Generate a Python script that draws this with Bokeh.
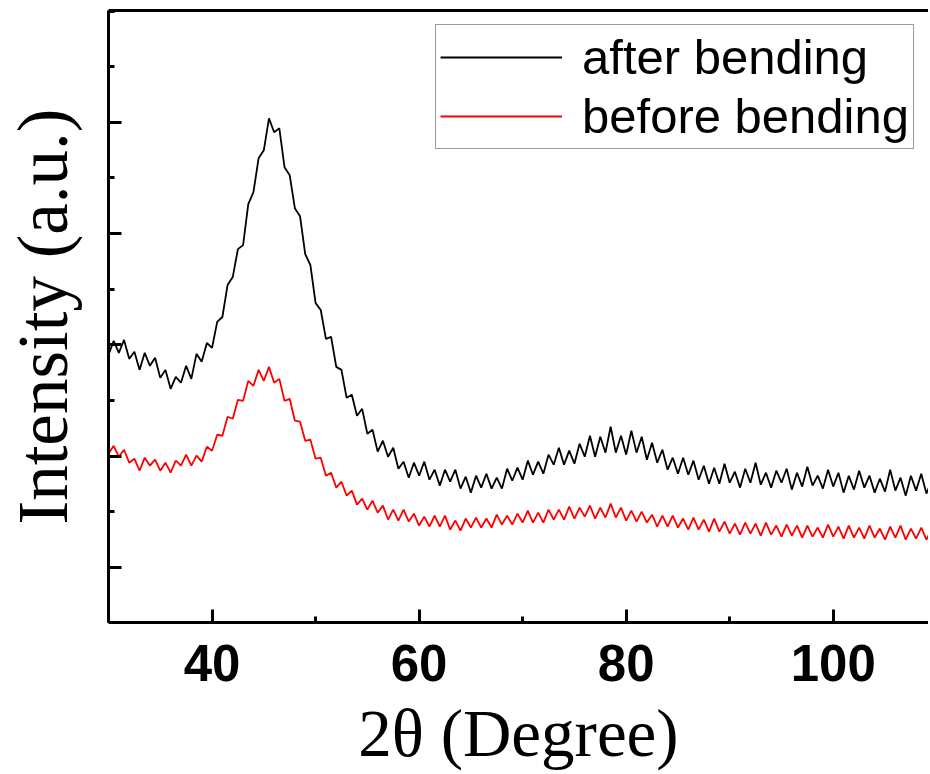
from bokeh.plotting import figure
from bokeh.models import LinearAxis, FixedTicker, Range1d, Legend, LegendItem
from bokeh.embed import file_html
from bokeh.resources import INLINE

# 2θ sampling grid (degrees)
two_theta = [30.0 + 0.5 * i for i in range(161)]

# Intensity (a.u.), one value per 0.5°
after_bending = [
    2911, 3036, 2929, 3045, 2875, 2938, 2776, 2929, 2812, 2884,
    2704, 2776, 2606, 2713, 2660, 2812, 2695, 2920, 2848, 3018,
    2973, 3207, 3251, 3538, 3610, 3861, 3897, 4265, 4373, 4678,
    4749, 5036, 4911, 4947, 4597, 4525, 4229, 4157, 3817, 3718,
    3377, 3314, 3054, 3072, 2803, 2776, 2525, 2552, 2363, 2426,
    2202, 2238, 2041, 2139, 1996, 2076, 1888, 1951, 1807, 1942,
    1825, 1951, 1789, 1879, 1736, 1879, 1771, 1879, 1709, 1816,
    1673, 1825, 1718, 1843, 1709, 1807, 1709, 1888, 1780, 1897,
    1789, 1960, 1834, 1951, 1843, 2014, 1924, 2076, 1924, 2050,
    1933, 2112, 1996, 2184, 1996, 2175, 2032, 2265, 2032, 2184,
    2014, 2229, 2032, 2175, 1969, 2121, 1942, 2058, 1879, 1987,
    1843, 1987, 1834, 1960, 1789, 1915, 1753, 1897, 1753, 1933,
    1762, 1861, 1718, 1888, 1762, 1942, 1744, 1852, 1718, 1870,
    1762, 1888, 1700, 1852, 1727, 1906, 1736, 1825, 1709, 1879,
    1727, 1852, 1673, 1825, 1700, 1870, 1718, 1825, 1673, 1798,
    1682, 1879, 1691, 1807, 1646, 1825, 1691, 1843, 1664, 1780,
    1673,
]
before_bending = [
    2023, 2094, 1996, 2058, 1942, 1978, 1870, 1987, 1915, 1969,
    1870, 1942, 1852, 1960, 1915, 2014, 1915, 2005, 1951, 2085,
    2050, 2193, 2184, 2355, 2337, 2507, 2498, 2677, 2633, 2776,
    2677, 2803, 2660, 2695, 2498, 2516, 2319, 2310, 2139, 2148,
    1978, 1987, 1825, 1852, 1718, 1771, 1646, 1691, 1565, 1619,
    1520, 1601, 1493, 1556, 1431, 1520, 1422, 1520, 1413, 1484,
    1377, 1457, 1368, 1466, 1368, 1466, 1341, 1422, 1332, 1440,
    1359, 1449, 1359, 1440, 1359, 1475, 1386, 1466, 1386, 1484,
    1404, 1511, 1404, 1493, 1404, 1520, 1431, 1520, 1431, 1547,
    1440, 1538, 1457, 1556, 1440, 1538, 1449, 1574, 1449, 1538,
    1422, 1511, 1413, 1502, 1404, 1475, 1368, 1466, 1368, 1466,
    1359, 1440, 1341, 1449, 1341, 1431, 1323, 1440, 1323, 1413,
    1305, 1395, 1296, 1404, 1305, 1395, 1287, 1404, 1296, 1377,
    1278, 1386, 1287, 1377, 1269, 1377, 1278, 1359, 1269, 1386,
    1278, 1368, 1260, 1377, 1269, 1359, 1260, 1377, 1269, 1350,
    1251, 1368, 1269, 1377, 1251, 1350, 1260, 1359, 1251, 1341,
    1260,
]

x_ticks = [40, 60, 80, 100]
x_minor_ticks = [30, 50, 70, 90, 110]
y_ticks = [1000, 2000, 3000, 4000, 5000]
y_minor_ticks = [500, 1500, 2500, 3500, 4500, 5500, 6000]

series_labels = ["after bending", "before bending"]
series_colors = ["black", "red"]

p = figure(width=928, height=774, output_backend="svg", toolbar_location=None,
           x_range=Range1d(30, 109.2), y_range=Range1d(506, 6005),
           min_border_left=108, min_border_right=0, min_border_top=10,
           min_border_bottom=152)
p.xgrid.visible = False
p.ygrid.visible = False
p.outline_line_color = None

r1 = p.line(two_theta, after_bending, line_color=series_colors[0], line_width=1.8)
r2 = p.line(two_theta, before_bending, line_color=series_colors[1], line_width=1.8)

xa = p.xaxis[0]
xa.ticker = FixedTicker(ticks=x_ticks, minor_ticks=x_minor_ticks)
xa.axis_line_width = 3
xa.major_tick_line_width = 3
xa.minor_tick_line_width = 3
xa.major_tick_in = 13
xa.major_tick_out = 0
xa.minor_tick_in = 6
xa.minor_tick_out = 0
xa.major_label_text_font = "Liberation Sans"
xa.major_label_text_font_style = "bold"
xa.major_label_text_font_size = "51px"
xa.major_label_text_color = "black"
xa.major_label_standoff = 22
xa.axis_label = "2θ (Degree)"
xa.axis_label_text_font = "Liberation Serif"
xa.axis_label_text_font_style = "normal"
xa.axis_label_text_font_size = "67px"
xa.axis_label_text_color = "black"
xa.axis_label_standoff = 12

ya = p.yaxis[0]
ya.ticker = FixedTicker(ticks=y_ticks, minor_ticks=y_minor_ticks)
ya.axis_line_width = 3
ya.major_tick_line_width = 3
ya.minor_tick_line_width = 3
ya.major_tick_in = 13
ya.major_tick_out = 0
ya.minor_tick_in = 6
ya.minor_tick_out = 0
ya.major_label_overrides = {t: "" for t in y_ticks}
ya.major_label_standoff = 0
ya.axis_label = "Intensity (a.u.)"
ya.axis_label_text_font = "Liberation Serif"
ya.axis_label_text_font_style = "normal"
ya.axis_label_text_font_size = "71px"
ya.axis_label_text_color = "black"
ya.axis_label_standoff = 27

top = LinearAxis(ticker=FixedTicker(ticks=[]), axis_line_width=3,
                 major_tick_in=0, major_tick_out=0, minor_tick_in=0, minor_tick_out=0,
                 major_label_standoff=0)
p.add_layout(top, "above")

legend = Legend(items=[LegendItem(label=series_labels[0], renderers=[r1]),
                       LegendItem(label=series_labels[1], renderers=[r2])],
                location="top_right", margin=14, padding=4, spacing=3,
                glyph_width=122, glyph_height=48, label_height=48,
                label_standoff=20,
                label_text_font="Liberation Sans", label_text_font_size="49px",
                label_text_color="black",
                border_line_color="#333333", border_line_width=1,
                background_fill_color="white", background_fill_alpha=1)
p.add_layout(legend)

open("out.html", "w").write(file_html(p, INLINE))
